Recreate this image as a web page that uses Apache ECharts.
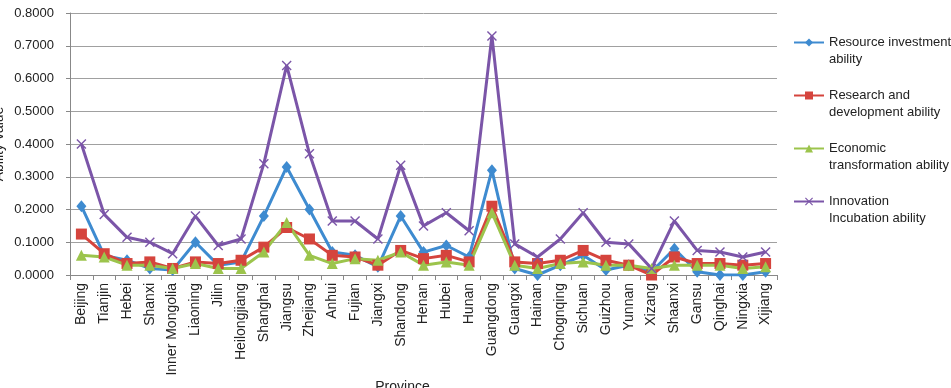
<!DOCTYPE html>
<html><head><meta charset="utf-8">
<script src="https://cdn.jsdelivr.net/npm/echarts@6/dist/echarts.min.js"></script>
<style>html,body{margin:0;padding:0;background:#fff}#c{width:951px;height:388px}</style>
</head><body><div id="c"></div>
<script>
const provinces = ["Beijing","Tianjin","Hebei","Shanxi","Inner Mongolia","Liaoning","Jilin","Heilongjiang","Shanghai","Jiangsu","Zhejiang","Anhui","Fujian","Jiangxi","Shandong","Henan","Hubei","Hunan","Guangdong","Guangxi","Hainan","Chognqing","Sichuan","Guizhou","Yunnan","Xizang","Shaanxi","Gansu","Qinghai","Ningxia","Xijiang"];
const resourceInvestment = [0.21,0.06,0.045,0.02,0.015,0.10,0.03,0.04,0.18,0.33,0.20,0.07,0.06,0.025,0.18,0.07,0.09,0.055,0.32,0.02,0.0,0.03,0.06,0.015,0.03,0.01,0.08,0.01,0.0,0.0,0.01];
const researchDevelopment = [0.125,0.065,0.035,0.04,0.02,0.04,0.035,0.045,0.085,0.145,0.11,0.06,0.055,0.03,0.075,0.05,0.06,0.04,0.21,0.04,0.035,0.045,0.075,0.045,0.03,0.0,0.055,0.035,0.035,0.03,0.035];
const economicTransformation = [0.06,0.055,0.03,0.03,0.02,0.035,0.02,0.02,0.07,0.16,0.06,0.035,0.05,0.045,0.07,0.03,0.04,0.03,0.19,0.03,0.02,0.035,0.04,0.03,0.03,0.02,0.03,0.03,0.03,0.02,0.025];
const innovationIncubation = [0.40,0.185,0.115,0.10,0.065,0.18,0.09,0.11,0.34,0.64,0.37,0.165,0.165,0.11,0.335,0.15,0.19,0.135,0.73,0.095,0.055,0.11,0.19,0.10,0.095,0.02,0.165,0.075,0.07,0.055,0.07];
const seriesNames = ["Resource investment\nability","Research and\ndevelopment ability","Economic\ntransformation ability","Innovation\nIncubation ability"];
const yTicks = [0,0.1,0.2,0.3,0.4,0.5,0.6,0.7,0.8];

const colors = ['#3e8bd0','#d5443d','#9cc44c','#7b55a8'];
const xPath = 'path://M0,1 L1,0 L5,4 L9,0 L10,1 L6,5 L10,9 L9,10 L5,6 L1,10 L0,9 L4,5 Z';
const font = 'Liberation Sans, Arial, sans-serif';
const chart = echarts.init(document.getElementById('c'));
function mk(name, data, color, symbol, size) {
  return {
    name: name, type: 'line', data: data, symbol: symbol, symbolSize: size,
    lineStyle: {color: color, width: 3}, itemStyle: {color: color},
    animation: false
  };
}
chart.setOption({
  animation: false,
  textStyle: {fontFamily: font},
  grid: {left: 70, right: 174, top: 13, bottom: 113, containLabel: false, outerBoundsMode: 'none'},
  legend: {
    orient: 'vertical', left: 793, top: 17, padding: 0, itemWidth: 30, itemHeight: 10, itemGap: 2,
    formatter: n => '\n' + n,
    textStyle: {fontSize: 13, color: '#222', fontFamily: font, lineHeight: 17},
    data: seriesNames
  },
  xAxis: {
    type: 'category', data: provinces, boundaryGap: true,
    name: 'Province', nameLocation: 'middle', nameGap: 105, nameMoveOverlap: false,
    nameTextStyle: {fontSize: 14, color: '#222', padding: [0,42,0,0]},
    axisLine: {lineStyle: {color: '#888', width: 1}},
    axisTick: {show: true, alignWithLabel: false, length: 5, lineStyle: {color: '#888'}},
    axisLabel: {rotate: 90, interval: 0, fontSize: 14, color: '#222', margin: 8}
  },
  yAxis: {
    type: 'value', min: yTicks[0], max: yTicks[yTicks.length-1], interval: 0.1,
    name: 'Ability value', nameLocation: 'middle', nameGap: 64, nameRotate: 90, nameMoveOverlap: false,
    nameTextStyle: {fontSize: 14, color: '#222'},
    axisLine: {show: true, lineStyle: {color: '#888'}},
    axisTick: {show: true, length: 4, lineStyle: {color: '#888'}},
    axisLabel: {fontSize: 13, color: '#222', margin: 16, formatter: v => v.toFixed(4)},
    splitLine: {lineStyle: {color: '#a0a0a0', width: 1}}
  },
  series: [
    mk(seriesNames[0], resourceInvestment, colors[0], 'diamond', [10,12]),
    mk(seriesNames[1], researchDevelopment, colors[1], 'rect', 11),
    mk(seriesNames[2], economicTransformation, colors[2], 'triangle', 11),
    mk(seriesNames[3], innovationIncubation, colors[3], xPath, 10)
  ]
});
</script></body></html>
